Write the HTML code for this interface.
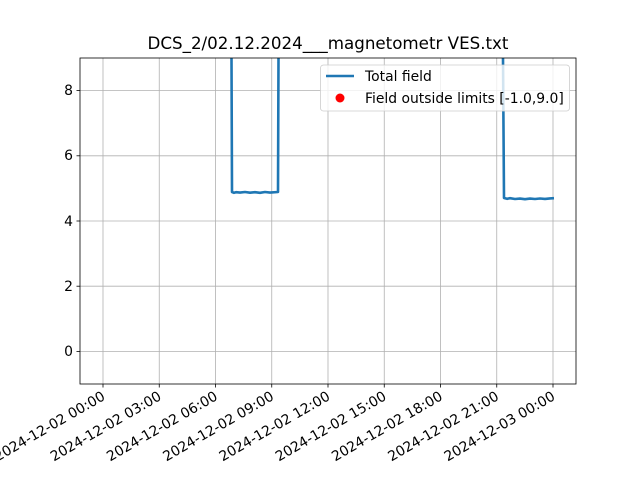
<!DOCTYPE html>
<html><head><style>body{margin:0;background:#fff}svg{display:block;font-family:"DejaVu Sans","Liberation Sans",sans-serif}</style></head>
<body>
<svg width="640" height="480" viewBox="0 0 640 480" xmlns="http://www.w3.org/2000/svg">
<rect width="640" height="480" fill="#fff"/>
<g stroke="#b0b0b0" stroke-width="0.8">
<line x1="103" y1="58" x2="103" y2="384"/><line x1="159.25" y1="58" x2="159.25" y2="384"/><line x1="215.5" y1="58" x2="215.5" y2="384"/><line x1="271.75" y1="58" x2="271.75" y2="384"/><line x1="328" y1="58" x2="328" y2="384"/><line x1="384.25" y1="58" x2="384.25" y2="384"/><line x1="440.5" y1="58" x2="440.5" y2="384"/><line x1="496.75" y1="58" x2="496.75" y2="384"/><line x1="553" y1="58" x2="553" y2="384"/>
<line x1="80" y1="351.4" x2="576" y2="351.4"/><line x1="80" y1="286.2" x2="576" y2="286.2"/><line x1="80" y1="221" x2="576" y2="221"/><line x1="80" y1="155.8" x2="576" y2="155.8"/><line x1="80" y1="90.6" x2="576" y2="90.6"/>
</g>
<polyline fill="none" stroke="#1f77b4" stroke-width="2.6" stroke-linejoin="round" points="231.5,58 232,192 234,192.8 236,192.2 240,192.6 245,192 250,192.7 255,192.2 260,192.8 265,192 270,192.6 278,192 278.5,58"/>
<polyline fill="none" stroke="#1f77b4" stroke-width="2.6" stroke-linejoin="round" points="503,58 504,198 507,198.8 510,198.2 515,199 520,198.6 525,199.2 530,198.6 535,199 540,198.5 545,198.9 550,198.4 554,198.2"/>
<rect x="80" y="58" width="496" height="326" fill="none" stroke="#000" stroke-width="0.8"/>
<g stroke="#000" stroke-width="0.8">
<line x1="103" y1="384" x2="103" y2="387.5"/><line x1="159.25" y1="384" x2="159.25" y2="387.5"/><line x1="215.5" y1="384" x2="215.5" y2="387.5"/><line x1="271.75" y1="384" x2="271.75" y2="387.5"/><line x1="328" y1="384" x2="328" y2="387.5"/><line x1="384.25" y1="384" x2="384.25" y2="387.5"/><line x1="440.5" y1="384" x2="440.5" y2="387.5"/><line x1="496.75" y1="384" x2="496.75" y2="387.5"/><line x1="553" y1="384" x2="553" y2="387.5"/>
<line x1="76.5" y1="351.4" x2="80" y2="351.4"/><line x1="76.5" y1="286.2" x2="80" y2="286.2"/><line x1="76.5" y1="221" x2="80" y2="221"/><line x1="76.5" y1="155.8" x2="80" y2="155.8"/><line x1="76.5" y1="90.6" x2="80" y2="90.6"/>
</g>
<g font-size="13.9" text-anchor="end">
<text x="73" y="356">0</text><text x="73" y="291">2</text><text x="73" y="226">4</text><text x="73" y="160">6</text><text x="73" y="95">8</text>
</g>
<g font-size="13.9" text-anchor="end">
<text transform="translate(106,399) rotate(-30)">2024-12-02 00:00</text>
<text transform="translate(162.25,399) rotate(-30)">2024-12-02 03:00</text>
<text transform="translate(218.5,399) rotate(-30)">2024-12-02 06:00</text>
<text transform="translate(274.75,399) rotate(-30)">2024-12-02 09:00</text>
<text transform="translate(331,399) rotate(-30)">2024-12-02 12:00</text>
<text transform="translate(387.25,399) rotate(-30)">2024-12-02 15:00</text>
<text transform="translate(443.5,399) rotate(-30)">2024-12-02 18:00</text>
<text transform="translate(499.75,399) rotate(-30)">2024-12-02 21:00</text>
<text transform="translate(556,399) rotate(-30)">2024-12-03 00:00</text>
</g>
<text x="328" y="49" font-size="16.7" text-anchor="middle">DCS_2/02.12.2024___magnetometr VES.txt</text>
<rect x="320.5" y="65" width="249" height="46" rx="3" fill="#fff" fill-opacity="0.8" stroke="#ccc" stroke-width="0.8"/>
<line x1="326" y1="76" x2="354" y2="76" stroke="#1f77b4" stroke-width="2.6"/>
<text x="365" y="81" font-size="13.9">Total field</text>
<circle cx="340" cy="98" r="4.5" fill="#f00"/>
<text x="365" y="103" font-size="13.9">Field outside limits [-1.0,9.0]</text>
</svg>
</body></html>
